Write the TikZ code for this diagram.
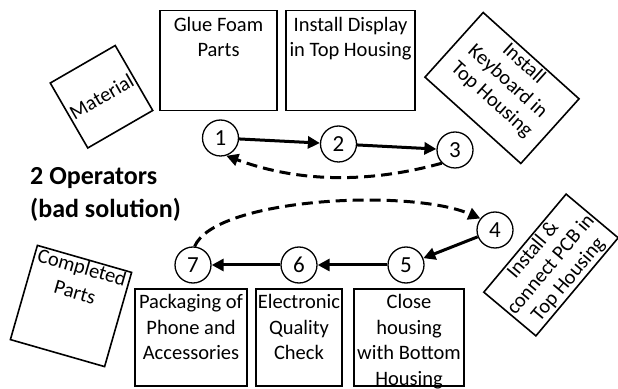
\documentclass[tikz,border=0pt]{standalone}
\usepackage{fontspec}
\setmainfont{Carlito}
\usetikzlibrary{arrows.meta}
\begin{document}
\begin{tikzpicture}[x=1pt,y=1pt,
  box/.style={draw, line width=1.6pt, inner sep=0pt},
  boxtext/.style={font=\fontsize{20.5}{25.5}\selectfont, align=center, inner xsep=0pt, inner ysep=6pt, anchor=north},
  num/.style={draw, circle, line width=1.3pt, minimum size=36pt, inner sep=0pt, font=\fontsize{23}{23}\selectfont},
  flow/.style={line width=3pt, -{Triangle[length=12pt,width=12pt]}},
  back/.style={flow, dash pattern=on 11pt off 6pt},
  head/.style={font=\fontsize{26}{33}\selectfont\bfseries, anchor=base west, inner sep=0pt}]
\useasboundingbox (0,0) rectangle (618,388);
% top boxes
\node[box, minimum width=117pt, minimum height=100pt] (glue) at (218.5,327.5) {};
\node[boxtext, inner ysep=7pt] (glueT) at (glue.north) {Glue Foam\\Parts};
\node[box, minimum width=129pt, minimum height=100pt] (disp) at (350.5,327.5) {};
\node[boxtext, inner ysep=7pt] (dispT) at (disp.north) {Install Display\\in Top Housing};
% material
\node[box, rotate=30, minimum width=75pt, minimum height=75pt] (mat) at (101.5,291.25) {};
\node[rotate=30, font=\fontsize{20.5}{25}\selectfont] (matT) at (mat.center) {Material};
% keyboard
\node[box, rotate=-42, minimum width=129pt, minimum height=87pt] (kb) at (502,300) {};
\node[boxtext, rotate=-42, inner ysep=3pt, font=\fontsize{20.5}{24}\selectfont] (kbT) at (kb.north) {Install\\Keyboard in\\Top Housing};
% pcb
\node[box, rotate=50, minimum width=128pt, minimum height=68pt] (pcb) at (551,123) {};
\node[rotate=50, align=center, inner sep=0pt, font=\fontsize{20.5}{23}\selectfont] (pcbT) at (pcb.center) {Install \&\\connect PCB in\\Top Housing};
% completed
\node[box, rotate=-16, minimum width=98pt, minimum height=98pt] (comp) at (71,82) {};
\node[boxtext, rotate=-16, inner ysep=2pt] (compT) at (comp.north) {Completed\\Parts};
% bottom boxes
\node[box, minimum width=112pt, minimum height=97pt] (pack) at (191,50.5) {};
\node[boxtext] (packT) at (pack.north) {Packaging of\\Phone and\\Accessories};
\node[box, minimum width=86pt, minimum height=97pt] (elec) at (299,50.5) {};
\node[boxtext] (elecT) at (elec.north) {Electronic\\Quality\\Check};
\node[box, minimum width=110pt, minimum height=97pt] (close) at (409,50.5) {};
\node[boxtext] (closeT) at (close.north) {Close\\housing\\with Bottom\\Housing};
% heading
\node[head] (h1) at (30,203) {2 Operators};
\node[head] (h2) at (30,170) {(bad solution)};
% circles
\node[num] (c1) at (220.5,250) {1};
\node[num] (c2) at (338.5,244) {2};
\node[num] (c3) at (455,238) {3};
\node[num] (c4) at (495,158) {4};
\node[num] (c5) at (406,123) {5};
\node[num] (c6) at (299,123) {6};
\node[num] (c7) at (193,123) {7};
% arrows
\draw[flow] (c1) -- (c2);
\draw[flow] (c2) -- (c3);
\draw[flow] (c4) -- (c5);
\draw[flow] (c5) -- (c6);
\draw[flow] (c6) -- (c7);
\draw[back] (c3.225) .. controls (370,205) and (300,205) .. (c1.-72);
\draw[back] (c7.85) .. controls (215,190) and (410,200) .. (c4.142);
\end{tikzpicture}
\end{document}
